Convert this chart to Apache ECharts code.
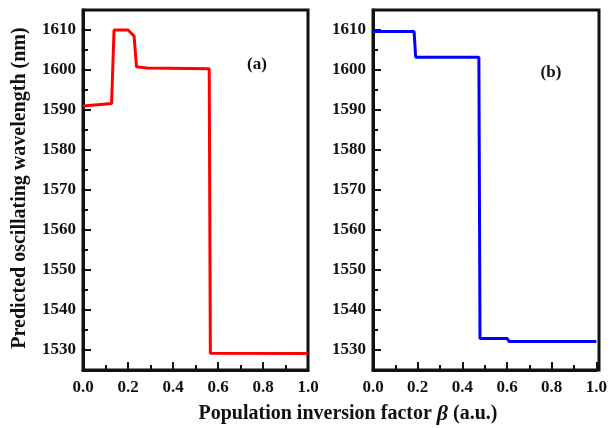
<!DOCTYPE html>
<html>
<head>
<meta charset="utf-8">
<script src="https://cdn.jsdelivr.net/npm/echarts@6/dist/echarts.min.js"></script>
<style>
html, body { margin: 0; padding: 0; background: #fff; }
#chart { width: 610px; height: 428px; }
</style>
</head>
<body>
<div id="chart"></div>
<script>
// panel (a), red curve
var xA = [0, 0.127, 0.138, 0.2, 0.227, 0.238, 0.283, 0.561, 0.566, 1.0];
var yA = [1591, 1591.6, 1610, 1610, 1608.5, 1600.8, 1600.5, 1600.3, 1529.2, 1529.1];
// panel (b), blue curve
var xB = [0, 0.184, 0.191, 0.474, 0.479, 0.6, 0.61, 1.0];
var yB = [1609.6, 1609.6, 1603.2, 1603.2, 1532.9, 1532.9, 1532.1, 1532.1];

var xMajor = [0, 0.2, 0.4, 0.6, 0.8, 1.0];
var yMajor = [1530, 1540, 1550, 1560, 1570, 1580, 1590, 1600, 1610];
var yMinor = [1535, 1545, 1555, 1565, 1575, 1585, 1595, 1605];
var panelTags = ['(a)', '(b)'];

var font = 'Liberation Serif';
var ink = '#111';
var grids = [
	{ left: 83, top: 10, width: 225, height: 360 },
	{ left: 373, top: 10, width: 226, height: 360 }
];

function pairs(xs, ys) {
	var out = [];
	for (var i = 0; i < xs.length; i++) out.push([xs[i], ys[i]]);
	return out;
}

function mkX(idx) {
	return {
		type: 'value', gridIndex: idx, min: 0, max: 1, interval: 0.2,
		axisLine: { show: true, onZero: false, lineStyle: { color: ink, width: 3 } },
		axisTick: { show: true, inside: true, length: 8, lineStyle: { color: ink, width: 2 } },
		minorTick: { show: true, splitNumber: 2, length: 5, lineStyle: { color: ink, width: 2 } },
		splitLine: { show: false },
		axisLabel: {
			color: ink, fontFamily: font, fontWeight: 'bold', fontSize: 17, margin: 9,
			formatter: function(v) { return v.toFixed(1); }
		}
	};
}

function mkY(idx, minor) {
	return {
		type: 'value', gridIndex: idx, position: 'left', min: 1525, max: 1615,
		axisLine: { show: true, onZero: false, lineStyle: { color: ink, width: 3 } },
		axisTick: { show: true, inside: true, length: minor ? 5 : 8,
			customValues: minor ? yMinor : yMajor, lineStyle: { color: ink, width: 2 } },
		splitLine: { show: false },
		axisLabel: {
			show: !minor, customValues: yMajor,
			color: ink, fontFamily: font, fontWeight: 'bold', fontSize: 17, margin: 7,
			formatter: function(v) { return String(v); }
		}
	};
}

var frames = grids.map(function(g) {
	return { type: 'rect', silent: true, z: -1,
		shape: { x: g.left, y: g.top, width: g.width, height: g.height },
		style: { fill: 'none', stroke: ink, lineWidth: 3 } };
});

var chart = echarts.init(document.getElementById('chart'));
chart.setOption({
	animation: false,
	backgroundColor: '#fff',
	grid: grids,
	xAxis: [mkX(0), mkX(1)],
	yAxis: [mkY(0, false), mkY(1, false), mkY(0, true), mkY(1, true)],
	series: [
		{ type: 'line', xAxisIndex: 0, yAxisIndex: 0, data: pairs(xA, yA), showSymbol: false,
		  lineStyle: { color: '#ff0000', width: 3 } },
		{ type: 'line', xAxisIndex: 1, yAxisIndex: 1, data: pairs(xB, yB), showSymbol: false,
		  lineStyle: { color: '#0000ff', width: 3 } }
	],
	graphic: frames.concat([
		{ type: 'text', x: 257, y: 65, style: { text: panelTags[0], fill: ink,
		  font: 'bold 17px "Liberation Serif"', textAlign: 'center', textVerticalAlign: 'middle' } },
		{ type: 'text', x: 551, y: 73, style: { text: panelTags[1], fill: ink,
		  font: 'bold 17px "Liberation Serif"', textAlign: 'center', textVerticalAlign: 'middle' } },
		{ type: 'text', x: 20, y: 188, rotation: Math.PI / 2, style: {
		  text: 'Predicted oscillating wavelength (nm)', fill: ink,
		  font: 'bold 20px "Liberation Serif"', textAlign: 'center', textVerticalAlign: 'middle' } },
		{ type: 'text', x: 348, y: 414, style: {
		  text: 'Population inversion factor {b|β} (a.u.)', fill: ink,
		  font: 'bold 20px "Liberation Serif"', textAlign: 'center', textVerticalAlign: 'middle',
		  rich: { b: { fontStyle: 'italic', fontWeight: 'bold', fontFamily: font, fontSize: 22, fill: ink } } } }
	])
});
</script>
</body>
</html>
